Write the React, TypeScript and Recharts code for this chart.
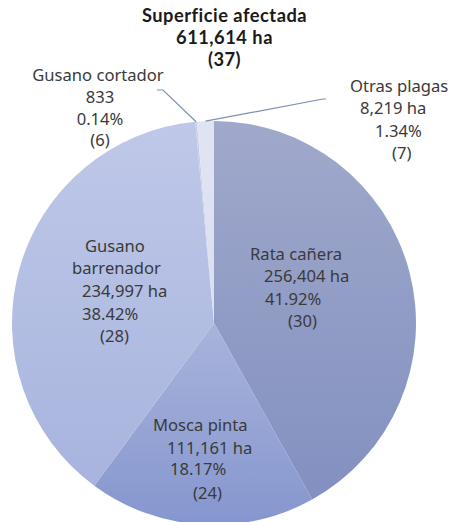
import React from 'react';
import { PieChart, Pie, Cell } from 'recharts';

const categories = ['Rata cañera', 'Mosca pinta', 'Gusano barrenador', 'Gusano cortador', 'Otras plagas'];
const hectares = [256404, 111161, 234997, 833, 8219];
const hectareLabels = ['256,404 ha', '111,161 ha', '234,997 ha', '833', '8,219 ha'];
const percentLabels = ['41.92%', '18.17%', '38.42%', '0.14%', '1.34%'];
const counts = [30, 24, 28, 6, 7];
const titleLines = ['Superficie afectada', '611,614 ha', '(37)'];

const data = categories.map((name, i) => ({
  name,
  value: hectares[i],
  ha: hectareLabels[i],
  pct: percentLabels[i],
  n: counts[i],
}));

// styling
const gradients = [
  ['#a0a9cb', '#8390c0'],
  ['#a9b3db', '#8596cf'],
  ['#bfc8e8', '#a8b4de'],
  ['#c7cee9', '#c7cee9'],
  ['#e0e4f2', '#dadff0'],
];

// per slice: line offsets relative to pie centre
const labelLayout: { dx: number; dy: number; anchor: 'start' | 'middle' }[][] = [
  [
    { dx: 36, dy: -70, anchor: 'start' },
    { dx: 50, dy: -48, anchor: 'start' },
    { dx: 51, dy: -25, anchor: 'start' },
    { dx: 74, dy: -3, anchor: 'start' },
  ],
  [
    { dx: -61, dy: 101, anchor: 'start' },
    { dx: -47, dy: 124, anchor: 'start' },
    { dx: -44, dy: 145, anchor: 'start' },
    { dx: -21, dy: 169, anchor: 'start' },
  ],
  [
    { dx: -129, dy: -78, anchor: 'start' },
    { dx: -142, dy: -56, anchor: 'start' },
    { dx: -132, dy: -33, anchor: 'start' },
    { dx: -132, dy: -10, anchor: 'start' },
    { dx: -114, dy: 12, anchor: 'start' },
  ],
  [
    { dx: -116, dy: -249, anchor: 'middle' },
    { dx: -114, dy: -227, anchor: 'middle' },
    { dx: -114, dy: -205, anchor: 'middle' },
    { dx: -114, dy: -184, anchor: 'middle' },
  ],
  [
    { dx: 136, dy: -238, anchor: 'start' },
    { dx: 146, dy: -216, anchor: 'start' },
    { dx: 161, dy: -193, anchor: 'start' },
    { dx: 178, dy: -171, anchor: 'start' },
  ],
];

const leaderLines: ({ dx: number; dy: number }[] | null)[] = [
  null,
  null,
  null,
  [
    { dx: -51, dy: -233 },
    { dx: -57, dy: -233 },
  ],
  [
    { dx: 109, dy: -224 },
    { dx: 112, dy: -224 },
  ],
];

const FONT = '"Noto Sans", sans-serif';
const TITLE_FONT = 'Lato, "Noto Sans", sans-serif';
const RAD = Math.PI / 180;

const renderLabel = (props: any) => {
  const { cx, cy, midAngle, outerRadius, index } = props;
  const item = data[index];
  const nameLines = item.name === 'Gusano barrenador' ? ['Gusano', 'barrenador'] : [item.name];
  const lines = [...nameLines, item.ha, item.pct, `(${item.n})`];
  const layout = labelLayout[index];
  const ll = leaderLines[index];
  let pathD = '';
  if (ll) {
    const sx = cx + outerRadius * Math.cos(-midAngle * RAD);
    const sy = cy + outerRadius * Math.sin(-midAngle * RAD);
    pathD = `M${sx},${sy}` + ll.map((pt) => `L${cx + pt.dx},${cy + pt.dy}`).join('');
  }
  return (
    <g key={`lab-${index}`}>
      {ll && <path d={pathD} stroke="#7d90b3" strokeWidth={1.2} fill="none" />}
      {lines.map((t, i) => (
        <text
          key={i}
          x={cx + layout[i].dx}
          y={cy + layout[i].dy}
          textAnchor={layout[i].anchor}
          dominantBaseline="central"
          fill="#3a3a3a"
          fontSize={16.6}
          fontFamily={FONT}
        >
          {t}
        </text>
      ))}
    </g>
  );
};

export default function App() {
  return (
    <div style={{ position: 'absolute', left: 0, top: 0, width: 455, height: 522, background: '#fff' }}>
      <div
        style={{
          position: 'absolute',
          left: 0,
          top: 4,
          width: 449,
          textAlign: 'center',
          fontFamily: TITLE_FONT,
          fontWeight: 700,
          fontSize: 18.3,
          letterSpacing: 0.5,
          lineHeight: '22px',
          color: '#1a1a1a',
        }}
      >
        {titleLines.map((t, i) => (
          <div key={i}>{t}</div>
        ))}
      </div>
      <PieChart width={455} height={522} margin={{ top: 0, right: 0, bottom: 0, left: 0 }} style={{ position: 'absolute', left: 0, top: 0 }}>
        <defs>
          {gradients.map((g, i) => (
            <linearGradient key={i} id={`grad${i}`} x1="0" y1="0" x2="0" y2="1">
              <stop offset="0%" stopColor={g[0]} />
              <stop offset="100%" stopColor={g[1]} />
            </linearGradient>
          ))}
        </defs>
        <Pie
          data={data}
          dataKey="value"
          nameKey="name"
          cx={214}
          cy={323}
          innerRadius={0}
          outerRadius={202}
          startAngle={90}
          endAngle={-270}
          stroke="none"
          label={renderLabel}
          labelLine={false}
          isAnimationActive={false}
        >
          {data.map((d, i) => (
            <Cell key={d.name} fill={`url(#grad${i})`} />
          ))}
        </Pie>
      </PieChart>
    </div>
  );
}
